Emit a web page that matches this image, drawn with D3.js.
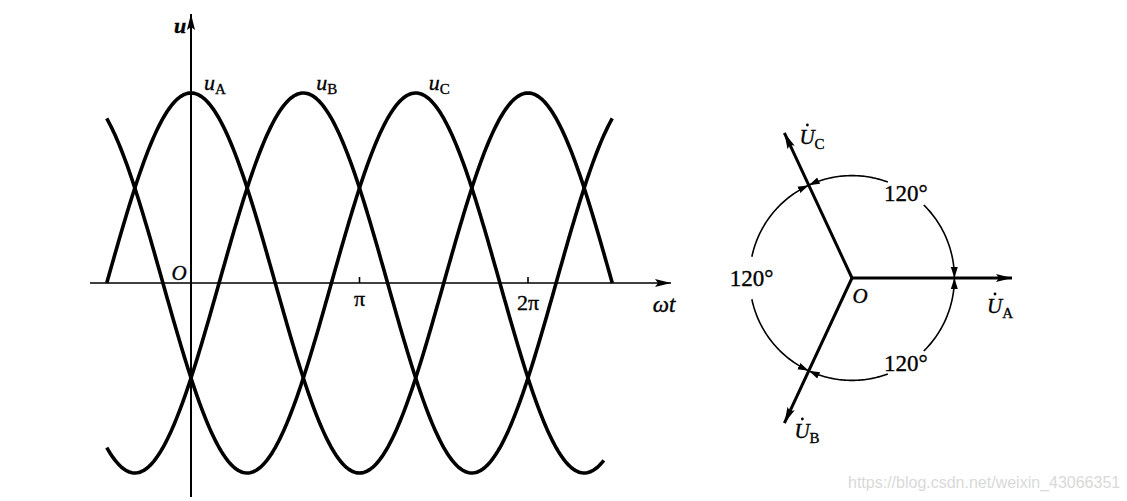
<!DOCTYPE html>
<html>
<head>
<meta charset="utf-8">
<script src="https://cdn.jsdelivr.net/npm/d3@7"></script>
<style>
  body { margin: 0; background: #fff; }
  text.lbl { font-family: "Liberation Serif", "DejaVu Serif", serif; fill: #000; stroke: #000; stroke-width: 0.35; }
</style>
</head>
<body>
<div class="canva"></div>
<script>
// 三相電壓：左邊波形，右邊相量圖

// 資料
const phases = ['A', 'B', 'C'];
const phaseShift = [0, 120, 240];        // 相位差 (度)
const waveStart = [-0.5, -0.5, -0.5];    // 波形起點 (單位 π)
const waveEnd = [2.5, 2.5, 2.45];        // 波形終點 (單位 π)
const xTickValues = [1, 2];              // 單位 π
const xTickLabels = ['π', '2π'];
const phasorAngle = [0, 245, 115];       // 圖上相量方向 (度)
const phasorMag = [1, 1, 1];
const angleLabels = ['120°', '120°', '120°'];
const watermark = 'https://blog.csdn.net/weixin_43066351';

const W = 1127, H = 501;
const svg = d3.select('.canva').append('svg')
  .attr('width', W).attr('height', H);

// 箭頭
const defs = svg.append('defs');
defs.append('marker').attr('id', 'bigArrow')
  .attr('markerUnits', 'userSpaceOnUse')
  .attr('viewBox', '0 -5 16 10')
  .attr('refX', 16).attr('refY', 0)
  .attr('markerWidth', 16).attr('markerHeight', 10)
  .attr('orient', 'auto')
  .append('path').attr('d', 'M0,-4L16,0L0,4L3,0Z').attr('fill', '#000');
defs.append('marker').attr('id', 'smallArrow')
  .attr('markerUnits', 'userSpaceOnUse')
  .attr('viewBox', '0 -4 11 8')
  .attr('refX', 11).attr('refY', 0)
  .attr('markerWidth', 11).attr('markerHeight', 8)
  .attr('orient', 'auto')
  .append('path').attr('d', 'M0,-3.5L11,0L0,3.5Z').attr('fill', '#000');

// ---------- 波形 ----------
const x = d3.scaleLinear().domain([0, 2]).range([191, 528]);
const y = d3.scaleLinear().domain([-1, 1]).range([473, 93]);

const wave = svg.append('g');

// x 軸
wave.append('line')
  .attr('x1', 90).attr('y1', y(0))
  .attr('x2', 671).attr('y2', y(0))
  .attr('stroke', '#000').attr('stroke-width', 1.6)
  .attr('marker-end', 'url(#bigArrow)');
// y 軸
wave.append('line')
  .attr('x1', x(0)).attr('y1', 497)
  .attr('x2', x(0)).attr('y2', 14)
  .attr('stroke', '#000').attr('stroke-width', 2)
  .attr('marker-end', 'url(#bigArrow)');

// 刻度
wave.selectAll('.tick').data(xTickValues).enter().append('line')
  .attr('x1', d => x(d)).attr('x2', d => x(d))
  .attr('y1', y(0) - 6).attr('y2', y(0))
  .attr('stroke', '#000').attr('stroke-width', 1.6);
wave.selectAll('.tickLabel').data(xTickLabels).enter().append('text')
  .attr('class', 'lbl')
  .text(d => d)
  .attr('x', (d, i) => x(xTickValues[i]))
  .attr('y', (d, i) => i === 0 ? 306 : 310)
  .attr('text-anchor', 'middle')
  .attr('font-size', 22);

wave.append('text').attr('class', 'lbl').text('O')
  .attr('x', 179).attr('y', 280)
  .attr('text-anchor', 'middle')
  .attr('font-size', 21).attr('font-style', 'italic');
wave.append('text').attr('class', 'lbl').text('u')
  .attr('x', 180).attr('y', 33)
  .attr('text-anchor', 'middle')
  .attr('font-size', 22).attr('font-style', 'italic').attr('font-weight', 'bold');
wave.append('text').attr('class', 'lbl').text('ωt')
  .attr('x', 664).attr('y', 312)
  .attr('text-anchor', 'middle').attr('font-size', 23).attr('font-style', 'italic');

// 三條曲線
const line = d3.line().x(d => x(d[0])).y(d => y(d[1]));
phases.forEach((p, i) => {
  const pts = d3.range(waveStart[i], waveEnd[i] + 0.001, 0.01)
    .map(t => [t, Math.cos(Math.PI * t - phaseShift[i] * Math.PI / 180)]);
  wave.append('path').datum(pts)
    .attr('d', line)
    .attr('fill', 'none')
    .attr('stroke', '#000')
    .attr('stroke-width', 3.6);

  const lbl = wave.append('text').attr('class', 'lbl')
    .attr('x', x(phaseShift[i] / 180) + 13)
    .attr('y', y(1) - 3)
    .attr('font-size', 22);
  lbl.append('tspan').text('u').attr('font-style', 'italic');
  lbl.append('tspan').text(p).attr('font-size', 15).attr('dy', 4);
});

// ---------- 相量圖 ----------
const cx = 852, cy = 278;
const r = d3.scaleLinear().domain([0, 1]).range([0, 160]);
const pt = (deg, rr) => [cx + rr * Math.cos(deg * Math.PI / 180),
                         cy - rr * Math.sin(deg * Math.PI / 180)];

const ph = svg.append('g');

phases.forEach((p, i) => {
  const tip = pt(phasorAngle[i], r(phasorMag[i]));
  ph.append('line')
    .attr('x1', cx).attr('y1', cy)
    .attr('x2', tip[0]).attr('y2', tip[1])
    .attr('stroke', '#000').attr('stroke-width', 3)
    .attr('marker-end', 'url(#bigArrow)');
});

// 相量標籤位置 (相對箭頭尖端)
const labelOffset = { A: [-25, 35], B: [10, 15], C: [15, 11] };
phases.forEach((p, i) => {
  const tip = pt(phasorAngle[i], r(phasorMag[i]));
  const lx = tip[0] + labelOffset[p][0], ly = tip[1] + labelOffset[p][1];
  const t = ph.append('text').attr('class', 'lbl').attr('x', lx).attr('y', ly).attr('font-size', 21);
  t.append('tspan').text('U').attr('font-style', 'italic');
  t.append('tspan').text(p).attr('font-size', 15).attr('dy', 5);
  ph.append('circle').attr('cx', lx + 8).attr('cy', ly - 19).attr('r', 1.4).attr('fill', '#000');
});

ph.append('text').attr('class', 'lbl').text('O')
  .attr('x', 860).attr('y', 303)
  .attr('text-anchor', 'middle')
  .attr('font-size', 21).attr('font-style', 'italic');

// 角度弧線 (中間留空給 120° 標籤)
const arcR = r(0.64);
const gap = 12;
const arcLine = d3.line();
const pairs = [[0, 115], [115, 245], [245, 360]];
pairs.forEach((pr, k) => {
  const mid = (pr[0] + pr[1]) / 2;
  const pieces = [[mid - gap, pr[0]], [mid + gap, pr[1]]];
  pieces.forEach(pc => {
    const pts = d3.range(0, 1.0001, 0.02).map(f => pt(pc[0] + (pc[1] - pc[0]) * f, arcR));
    ph.append('path').attr('d', arcLine(pts))
      .attr('fill', 'none').attr('stroke', '#000').attr('stroke-width', 1.6)
      .attr('marker-end', 'url(#smallArrow)');
  });
  const lp = pt(mid, arcR - 2);
  ph.append('text').attr('class', 'lbl').text(angleLabels[k])
    .attr('x', lp[0]).attr('y', lp[1] + 8)
    .attr('text-anchor', 'middle')
    .attr('font-size', 23);
});

// 浮水印
svg.append('text').text(watermark)
  .attr('x', 848).attr('y', 488)
  .style('font-family', '"Liberation Sans", Arial, sans-serif')
  .style('font-size', '16px')
  .style('fill', '#d9d9d9');
</script>
</body>
</html>
